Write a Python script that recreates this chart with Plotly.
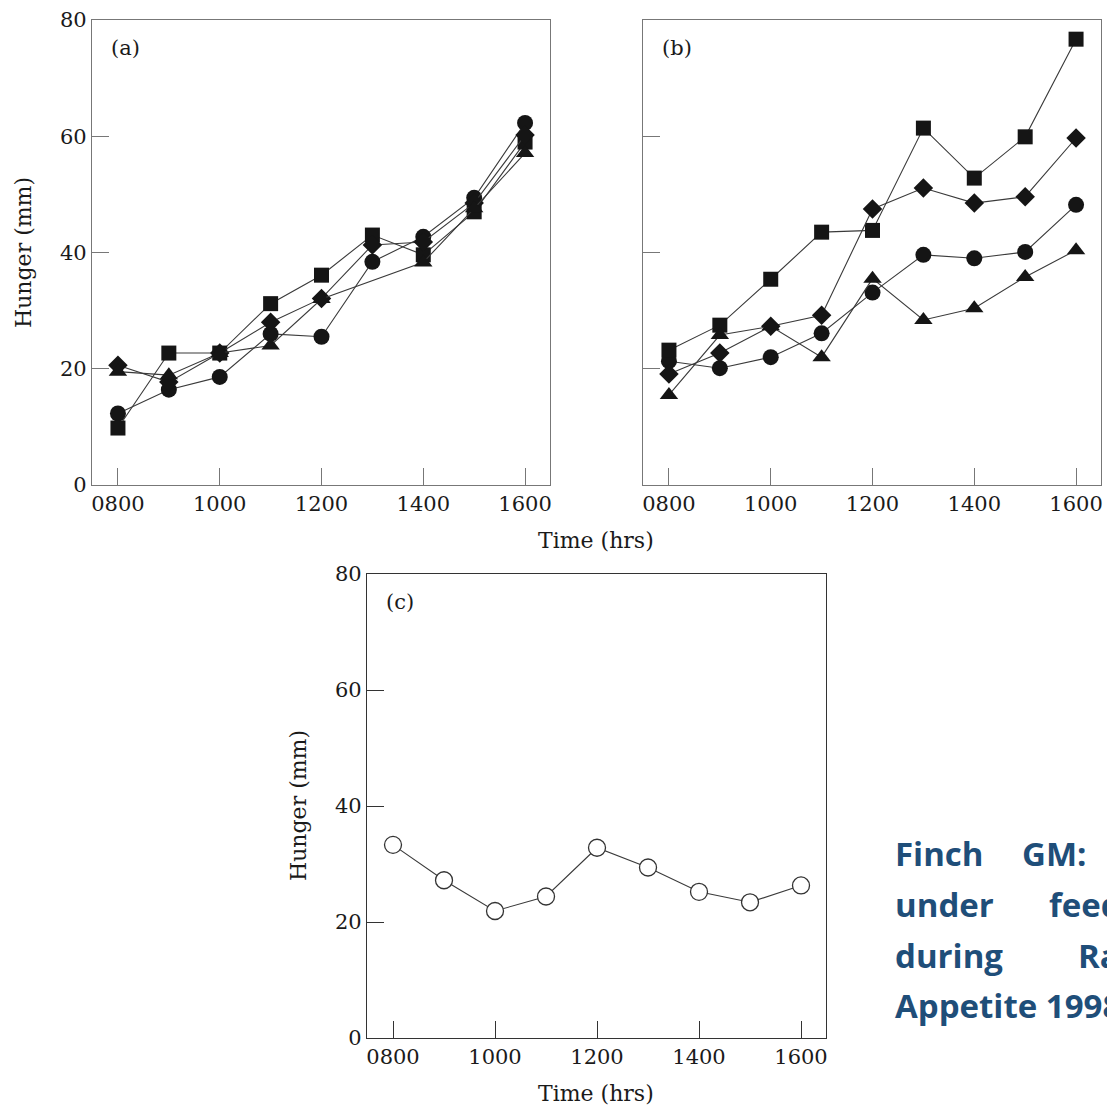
import plotly.graph_objects as go

# ---------------- data ----------------
hours = [8, 9, 10, 11, 12, 13, 14, 15, 16]
tick_vals = [8, 10, 12, 14, 16]
tick_text = ["0800", "1000", "1200", "1400", "1600"]
y_ticks = [0, 20, 40, 60, 80]

# panel (a)
a_square = [9.8, 22.7, 22.7, 31.2, 36.1, 43.0, 39.6, 47.0, 59.0]
a_diamond = [20.6, 17.7, 22.7, 28.0, 32.1, 41.3, 41.8, 48.5, 60.2]
a_circle = [12.3, 16.4, 18.6, 26.0, 25.5, 38.4, 42.7, 49.4, 62.3]
a_triangle = [19.5, 18.9, 22.7, 24.0, 32.0, None, 38.3, 47.6, 57.1]

# panel (b)
b_square = [23.2, 27.5, 35.4, 43.5, 43.8, 61.4, 52.8, 59.9, 76.7]
b_diamond = [19.1, 22.7, 27.3, 29.2, 47.5, 51.1, 48.5, 49.6, 59.7]
b_circle = [21.3, 20.1, 22.0, 26.1, 33.1, 39.6, 39.0, 40.1, 48.2]
b_triangle = [15.5, 25.8, 27.3, 22.0, 35.5, 28.4, 30.4, 35.8, 40.4]

# panel (c)
c_circle = [33.3, 27.2, 21.9, 24.4, 32.8, 29.4, 25.2, 23.4, 26.3]

citation_lines = [
    ["Finch", "GM:", "Appetite"],
    ["under", "feeding"],
    ["during", "Ramadan."],
    ["Appetite 1998"],
]

# ---------------- style ----------------
W = H = 1107
SERIF = "DejaVu Serif"
line_col = "#3a3a3a"
mk_col = "#151515"

def px_x(p):
    return p / W

def px_y(p):
    return 1 - p / H

fig = go.Figure()

series_defs = [
    ("circle", 16), ("square", 15), ("diamond", 15), ("triangle-up", 16)
]

def add_panel(xa, ya, data):
    for (sym, size), vals in zip(series_defs, data):
        fig.add_trace(go.Scatter(
            x=hours, y=vals, mode="lines+markers", connectgaps=True,
            xaxis=xa, yaxis=ya, showlegend=False,
            line=dict(color=line_col, width=1.1),
            marker=dict(symbol=sym, size=size, color=mk_col,
                        line=dict(width=0)),
            cliponaxis=False,
        ))

add_panel("x", "y", [a_circle, a_square, a_diamond, a_triangle])
add_panel("x2", "y2", [b_circle, b_square, b_diamond, b_triangle])

fig.add_trace(go.Scatter(
    x=hours, y=c_circle, mode="lines+markers", xaxis="x3", yaxis="y3",
    showlegend=False, line=dict(color=line_col, width=1.1),
    marker=dict(symbol="circle", size=17, color="white",
                line=dict(color="#333333", width=1.3)),
    cliponaxis=False,
))

def xaxis(domain, anchor, frame):
    return dict(domain=domain, anchor=anchor, range=[7.49, 16.49],
                tickvals=tick_vals, ticktext=tick_text, ticks="inside",
                ticklen=17, tickcolor=frame, tickwidth=1,
                showline=True, linecolor=frame, linewidth=1.3, mirror=True,
                showgrid=False, zeroline=False, automargin=False,
                tickfont=dict(family=SERIF, size=21, color="#1a1a1a"))

def yaxis(domain, anchor, frame, labels=True):
    return dict(domain=domain, anchor=anchor, range=[0, 80],
                tickvals=y_ticks, ticks="inside", ticklen=17,
                tickcolor=frame, tickwidth=1, showticklabels=labels,
                showline=True, linecolor=frame, linewidth=1.3, mirror=True,
                showgrid=False, zeroline=False, automargin=False,
                tickfont=dict(family=SERIF, size=21, color="#1a1a1a"))

top_y = [px_y(485), px_y(20)]
fig.update_layout(
    width=W, height=H, autosize=False,
    margin=dict(l=0, r=0, t=0, b=0, pad=0, autoexpand=False),
    paper_bgcolor="white", plot_bgcolor="white",
    xaxis=xaxis([px_x(92), px_x(550)], "y", "#777"),
    yaxis=yaxis(top_y, "x", "#777"),
    xaxis2=xaxis([px_x(643), px_x(1101)], "y2", "#777"),
    yaxis2=yaxis(top_y, "x2", "#777", labels=False),
    xaxis3=xaxis([px_x(367), px_x(826)], "y3", "#333"),
    yaxis3=yaxis([px_y(1038), px_y(574)], "x3", "#333"),
)

ann = []
def text(x, y, s, size=22, angle=0, xanchor="center", font=SERIF, color="#1a1a1a", bold=False):
    ann.append(dict(x=px_x(x), y=px_y(y), xref="paper", yref="paper",
                    text=("<b>%s</b>" % s) if bold else s, showarrow=False,
                    textangle=angle, xanchor=xanchor, yanchor="middle",
                    font=dict(family=font, size=size, color=color)))

text(125, 48, "(a)", size=21)
text(677, 48, "(b)", size=21)
text(400, 602, "(c)", size=21)
text(24, 253, "Hunger (mm)", angle=-90)
text(298, 806, "Hunger (mm)", angle=-90)
text(596, 540, "Time (hrs)")
text(596, 1093, "Time (hrs)")

cite_col = "#1F4E79"
word_x = [[893, 1020, 1150], [893, 1047], [893, 1076], [893]]
line_y = [853, 904, 955, 1005]
for words, xs, yy in zip(citation_lines, word_x, line_y):
    for w, xx in zip(words, xs):
        text(xx, yy, w, size=33, xanchor="left", font="Open Sans",
             color=cite_col, bold=True)

fig.update_layout(annotations=ann)
fig.write_html("out.html")
